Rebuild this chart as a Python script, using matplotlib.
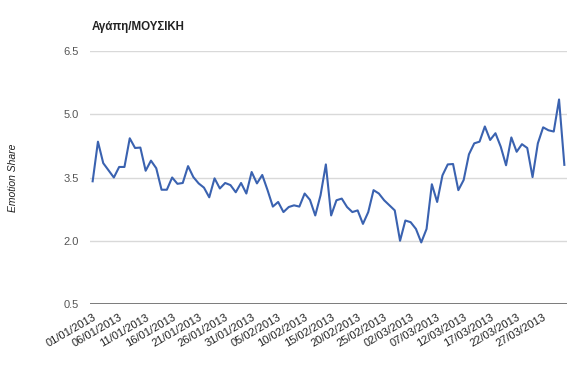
import matplotlib
matplotlib.use("Agg")
import matplotlib.pyplot as plt
import datetime as dt

title = "Αγάπη/ΜΟΥΣΙΚΗ"
y_label = "Emotion Share"
start_date = dt.date(2013, 1, 1)
values = [
    3.41, 4.35, 3.84, 3.67, 3.50, 3.75, 3.75, 4.43, 4.20, 4.21,
    3.66, 3.90, 3.72, 3.21, 3.21, 3.50, 3.35, 3.37, 3.77, 3.51,
    3.36, 3.26, 3.03, 3.48, 3.24, 3.37, 3.32, 3.15, 3.37, 3.12,
    3.63, 3.36, 3.56, 3.20, 2.81, 2.92, 2.68, 2.80, 2.84, 2.81,
    3.12, 2.97, 2.60, 3.08, 3.81, 2.60, 2.96, 3.00, 2.80, 2.68,
    2.72, 2.40, 2.68, 3.20, 3.12, 2.96, 2.84, 2.72, 2.00, 2.48,
    2.44, 2.28, 1.96, 2.28, 3.34, 2.92, 3.55, 3.81, 3.82, 3.20,
    3.44, 4.05, 4.31, 4.35, 4.71, 4.39, 4.55, 4.23, 3.79, 4.45,
    4.11, 4.29, 4.20, 3.51, 4.31, 4.69, 4.62, 4.59, 5.35, 3.80,
]
dates = [(start_date + dt.timedelta(days=i)).strftime("%d/%m/%Y") for i in range(len(values))]
tick_step = 5
y_ticks = [0.5, 2.0, 3.5, 5.0, 6.5]

plt.rcParams['font.family'] = ['Liberation Sans', 'DejaVu Sans']

fig = plt.figure(figsize=(5.78, 3.87), dpi=100)
ax = fig.add_axes([90/578, 1 - 304/387, 477/578, 253/387])

x = list(range(len(values)))
ax.plot(x, values, color='#3a62b0', linewidth=1.5, zorder=3)

ax.set_xlim(-0.5, len(values) - 0.5)
ax.set_ylim(0.5, 6.5)
ax.set_yticks(y_ticks)
ax.set_yticklabels([f"{v:.1f}" for v in y_ticks], fontsize=8, color='#555555')
ax.grid(axis='y', color='#d9d9d9', linewidth=1)
ax.axhline(0.5, color='#666666', linewidth=1.2, zorder=2)

tick_pos = x[::tick_step]
ax.set_xticks(tick_pos)
ax.set_xticklabels([dates[i] for i in tick_pos], rotation=30, ha='right',
                   rotation_mode='anchor', fontsize=8, color='#222222')
ax.tick_params(axis='both', length=0)
ax.tick_params(axis='x', pad=6)
ax.tick_params(axis='y', pad=8)
for s in ax.spines.values():
    s.set_visible(False)

ax.set_ylabel(y_label, fontsize=7.5, style='italic', color='#222222', labelpad=33)
fig.text(92/578, 1 - 27/387, title, fontsize=8.3, fontweight='bold', color='#222222',
         ha='left', va='center')

fig.savefig("out.png", dpi=100, facecolor='white')
